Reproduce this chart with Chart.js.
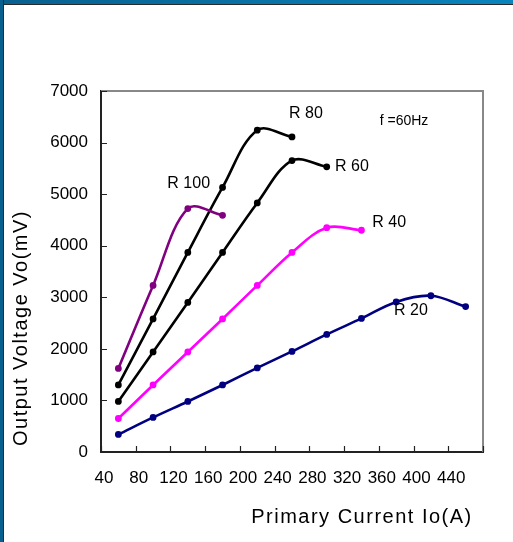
<!DOCTYPE html>
<html>
<head>
<meta charset="utf-8">
<script src="https://cdn.jsdelivr.net/npm/chart.js@4.4.1/dist/chart.umd.min.js"></script>
<style>
  body { margin: 0; background: #fff; }
  #wrap { position: relative; width: 513px; height: 542px; overflow: hidden; background: #fff; }
  #topBar { position: absolute; left: 0; top: 0; width: 513px; height: 4px;
    background: linear-gradient(to right, #08608f, #0a84bd); border-bottom: 1px solid #2a2a2a; }
  #leftBar { position: absolute; left: 0; top: 0; width: 3px; height: 542px;
    background: #08608f; border-right: 1px solid #2a2a2a; }
  canvas { position: absolute; left: 0; top: 0; }
</style>
</head>
<body>
<div id="wrap">
  <canvas id="voltChart" width="513" height="542"></canvas>
  <div id="topBar"></div>
  <div id="leftBar"></div>
</div>
<script>
// primary current (A) for each measured point
const currents = [60, 100, 140, 180, 220, 260, 300, 340, 380, 420, 460];

// output voltage (mV) per burden resistor
const r100 = [1620, 3230, 4720, 4590];
const r80 = [1300, 2580, 3870, 5130, 6240, 6110];
const r60 = [980, 1940, 2900, 3870, 4830, 5650, 5530];
const r40 = [650, 1300, 1940, 2580, 3230, 3870, 4350, 4300];
const r20 = [340, 670, 980, 1300, 1630, 1950, 2280, 2590, 2910, 3030, 2820];

const seriesNames = ["R 100", "R 80", "R 60", "R 40", "R 20"];
const seriesColors = ["#800080", "#000000", "#000000", "#ff00ff", "#000080"];
const seriesValues = [r100, r80, r60, r40, r20];

const yTicks = [0, 1000, 2000, 3000, 4000, 5000, 6000, 7000];
const xTicks = [40, 80, 120, 160, 200, 240, 280, 320, 360, 400, 440];

// where the curve names sit, in data units
const nameSpots = [
  { text: "R 100", x: 141, y: 5200 },
  { text: "R 80", x: 276, y: 6560 },
  { text: "R 60", x: 329, y: 5540 },
  { text: "R 40", x: 372, y: 4450 },
  { text: "R 20", x: 397, y: 2750 },
];
const freqNote = { text: "f =60Hz", x: 389, y: 6420 };

const FONT = "'Liberation Sans', Arial, sans-serif";

const datasets = seriesValues.map((vals, i) => ({
  label: seriesNames[i],
  data: vals.map((v, j) => ({ x: currents[j], y: v })),
  borderColor: seriesColors[i],
  backgroundColor: seriesColors[i],
  borderWidth: 2.6,
  pointRadius: 2.1,
  pointHoverRadius: 2.1,
  tension: 0.35,
  fill: false,
}));

const frameAndText = {
  id: "frameAndText",
  afterDatasetsDraw(chart) {
    const { ctx, chartArea: a, scales: { x, y } } = chart;
    ctx.save();
    // grey top/right box
    ctx.strokeStyle = "#888";
    ctx.lineWidth = 2;
    ctx.beginPath();
    ctx.moveTo(a.left, a.top);
    ctx.lineTo(a.right, a.top);
    ctx.lineTo(a.right, a.bottom);
    ctx.stroke();
    // inward ticks
    ctx.strokeStyle = "#222";
    ctx.lineWidth = 1.2;
    ctx.beginPath();
    yTicks.forEach(v => {
      const py = Math.round(y.getPixelForValue(v)) + 0.5;
      ctx.moveTo(a.left, py);
      ctx.lineTo(a.left + 6, py);
    });
    xTicks.concat([480]).forEach(v => {
      const px = Math.round(x.getPixelForValue(v)) + 0.5;
      ctx.moveTo(px, a.bottom);
      ctx.lineTo(px, a.bottom - 6);
    });
    ctx.stroke();

    // curve names
    ctx.fillStyle = "#000";
    ctx.textAlign = "center";
    ctx.textBaseline = "middle";
    ctx.font = "16px " + FONT;
    nameSpots.forEach(s => {
      ctx.fillText(s.text, x.getPixelForValue(s.x), y.getPixelForValue(s.y));
    });
    ctx.font = "14px " + FONT;
    ctx.fillText(freqNote.text, x.getPixelForValue(freqNote.x), y.getPixelForValue(freqNote.y));

    // axis titles
    ctx.font = "20px " + FONT;
    ctx.letterSpacing = "1.5px";
    ctx.fillText("Primary Current Io(A)", 362, 517);
    ctx.translate(21, 328);
    ctx.rotate(-Math.PI / 2);
    ctx.fillText("Output Voltage Vo(mV)", 0, 0);
    ctx.restore();
  },
};

new Chart(document.getElementById("voltChart"), {
  type: "line",
  data: { datasets },
  options: {
    responsive: false,
    animation: false,
    devicePixelRatio: 1,
    layout: { padding: { top: 91, right: 30, left: 0, bottom: 0 } },
    plugins: { legend: { display: false }, tooltip: { enabled: false } },
    scales: {
      x: {
        type: "linear",
        min: 40,
        max: 480,
        afterFit: s => { s.height = 90; },
        afterBuildTicks: s => { s.ticks = xTicks.map(v => ({ value: v })); },
        ticks: {
          color: "#000",
          font: { size: 17, family: FONT },
          padding: 16,
          labelOffset: 3,
          maxRotation: 0,
          autoSkip: false,
          callback: v => String(v),
        },
        grid: { display: false, drawTicks: false },
        border: { display: true, color: "#222", width: 2 },
      },
      y: {
        min: 0,
        max: 7000,
        afterFit: s => { s.width = 101; },
        afterBuildTicks: s => { s.ticks = yTicks.map(v => ({ value: v })); },
        ticks: {
          color: "#000",
          font: { size: 17, family: FONT },
          padding: 13,
          callback: v => String(v),
        },
        grid: { display: false, drawTicks: false },
        border: { display: true, color: "#222", width: 2 },
      },
    },
  },
  plugins: [frameAndText],
});
</script>
</body>
</html>
